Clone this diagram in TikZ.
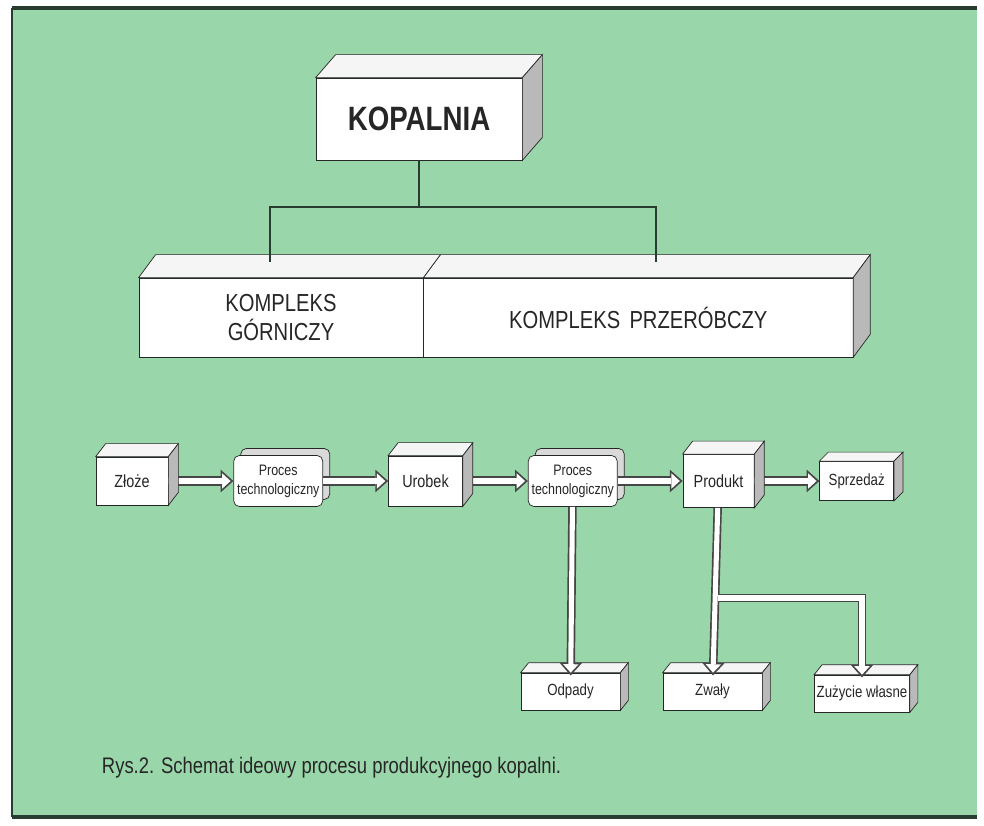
\documentclass[tikz,border=0pt]{standalone}
\usepackage{fontspec}
\setmainfont{Liberation Sans}[FakeStretch=0.82]
\usepackage{tikz}
\usetikzlibrary{positioning,shadows,arrows.meta}

\definecolor{panelgreen}{RGB}{153,214,170}
\definecolor{ink}{RGB}{38,38,38}
\definecolor{frameline}{RGB}{40,60,50}

\begin{document}
\begin{tikzpicture}[x=0.025cm,y=-0.025cm,node distance=1.625cm,
  every node/.style={text=ink},
  box/.style={draw=ink,fill=white,line width=0.5pt,inner sep=0pt,align=center},
  level1/.style={box,font=\fontsize{24}{28}\bfseries\selectfont},
  level2/.style={box,minimum height=1.975cm,font=\fontsize{17.5}{21}\selectfont},
  stepbox/.style={box,font=\fontsize{12.5}{15}\selectfont},
  endbox/.style={box,minimum width=2.475cm,minimum height=0.925cm,font=\fontsize{11.5}{14}\selectfont}
]

\tikzset{
  procbox/.style={box,rounded corners=4pt,minimum width=2.225cm,minimum height=1.275cm,
    font=\fontsize{10.8}{13.5}\selectfont,
    copy shadow={shadow xshift=5pt,shadow yshift=5pt,fill=gray!30,draw=ink,line width=0.5pt}},
  topface/.style={fill=gray!8,draw=ink,line width=0.5pt},
  sideface/.style={fill=gray!55,draw=ink,line width=0.5pt},
  tree/.style={draw=frameline,line width=2pt},
  pipe/.style={draw=gray!55!black,line width=7pt,-{Triangle[length=9pt,width=16pt,line width=0pt]}},
  pipe core/.style={draw=white,line width=4.5pt,shorten >=2pt,-{Triangle[length=6pt,width=11pt,line width=0pt]}},
  thin pipe/.style={line width=6pt},
  thin core/.style={line width=3.6pt}
}

\useasboundingbox (0,0) rectangle (984,826);

% panel
\fill[panelgreen] (12,8) rectangle (977,817);
\draw[frameline,line width=2.2pt] (977,8) -- (12,8);
\draw[frameline,line width=2.2pt] (12,817) -- (977,817);
\draw[frameline,line width=0.8pt] (12,8) -- (12,817);

% organisation
\node[level1,minimum width=5.15cm,minimum height=2.05cm] (kop) at (419,119) {KOPALNIA};
\node[level2,minimum width=7.1cm] (kg) at (281,317.5) {KOMPLEKS\\GÓRNICZY};
\node[level2,minimum width=10.725cm,right=0pt of kg] (kp) {KOMPLEKS\hspace{0.15em} PRZERÓBCZY};

% process chain
\node[stepbox,minimum width=1.8cm,minimum height=1.2cm] (zl) at (132,481) {Złoże};
\node[procbox,right=of zl] (pt1) {Proces\\technologiczny};
\node[stepbox,minimum width=1.85cm,minimum height=1.25cm,right=of pt1] (ur) {Urobek};
\node[procbox,right=of ur] (pt2) {Proces\\technologiczny};
\node[stepbox,minimum width=1.775cm,minimum height=1.325cm,right=of pt2] (pr) {Produkt};
\node[stepbox,minimum width=1.85cm,minimum height=0.975cm,right=of pr,
  font=\fontsize{11.5}{14}\selectfont] (sp) {Sprzedaż};

\node[endbox] (od) at (570.5,691.5) {Odpady};
\node[endbox] (zw) at (712.5,691.5) {Zwały};
\node[endbox,minimum width=2.375cm] (zu) at (862,693.5) {Zużycie własne};

\foreach \a/\b in {zl/pt1,pt1/ur,ur/pt2,pt2/pr,pr/sp}
  \draw[pipe] (\a) -- (\b);
\foreach \a/\b in {zl/pt1,pt1/ur,ur/pt2,pt2/pr,pr/sp}
  \draw[pipe core] (\a) -- (\b);

% 3d faces
\foreach \n/\dx/\dy in {kop/20/23,kp/17/23,zl/10/13,ur/10/13,pr/10/13,sp/9/9,od/8/10,zw/8/10,zu/8/10} {
  \filldraw[topface] (\n.north west) -- ++(\dx,-\dy) -- ([shift={(\dx,-\dy)}]\n.north east) -- (\n.north east) -- cycle;
  \filldraw[sideface] (\n.north east) -- ++(\dx,-\dy) -- ([shift={(\dx,-\dy)}]\n.south east) -- (\n.south east) -- cycle;
}
\filldraw[topface] (kg.north west) -- ++(17,-23) -- ([shift={(17,-23)}]kg.north east) -- (kg.north east) -- cycle;

% tree
\coordinate (j) at (kop.south |- 0,207);
\coordinate (kgtop) at (270,262);
\coordinate (kptop) at (656,262);
\draw[tree] (kop) -- (j);
\draw[tree] (kgtop) |- (j) -| (kptop);

% outputs
\coordinate (br) at (pr.south |- 0,598);
\draw[pipe,thin pipe,shorten >=-2pt] (pt2) -- (od);
\draw[pipe,thin pipe,shorten >=-2pt] (pr) -- (zw);
\draw[pipe,thin pipe,shorten >=-2pt] (br) -| (zu);
\draw[pipe core,thin core,shorten >=0pt] (pt2) -- (od);
\draw[pipe core,thin core,shorten >=0pt] (pr) -- (zw);
\draw[pipe core,thin core,shorten >=0pt] (br) -| (zu);

\node[anchor=west,font=\fontsize{16}{19}\selectfont] (cap) at (97,768)
  {Rys.2. Schemat ideowy procesu produkcyjnego kopalni.};

\end{tikzpicture}
\end{document}
